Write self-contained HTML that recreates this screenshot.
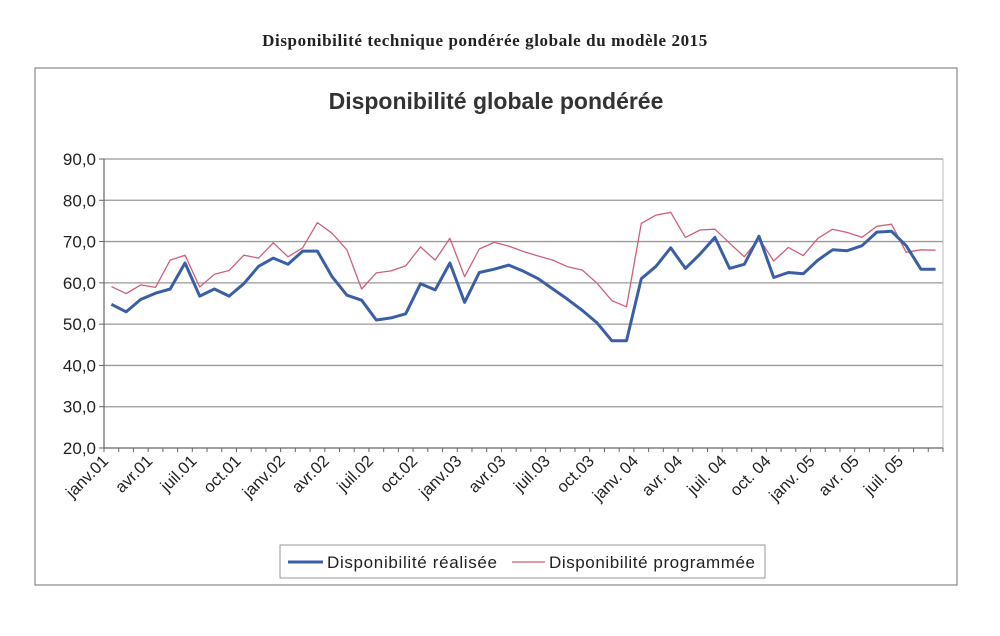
<!DOCTYPE html>
<html><head><meta charset="utf-8"><style>
body{margin:0;background:#fff;width:1000px;height:636px;overflow:hidden}
svg{display:block}
</style></head><body>
<svg id="chart" width="1000" height="636" viewBox="0 0 1000 636" xmlns="http://www.w3.org/2000/svg">
<text x="485" y="46" text-anchor="middle" font-family="Liberation Serif, serif" font-weight="bold" font-size="17" letter-spacing="0.6" fill="#222">Disponibilité technique pondérée globale du modèle 2015</text>
<rect x="35" y="68" width="922" height="517" fill="none" stroke="#888" stroke-width="1.2"/>
<text x="496" y="109" text-anchor="middle" font-family="Liberation Sans, sans-serif" font-weight="bold" font-size="23" fill="#333">Disponibilité globale pondérée</text>
<g id="grid"></g><g id="axes"></g><g id="series"></g>
<g>
<rect x="280" y="545" width="485" height="33" fill="#fff" stroke="#999"/>
<line x1="288" y1="562" x2="323" y2="562" stroke="#3a5ea8" stroke-width="3"/>
<text x="327" y="568" font-family="Liberation Sans, sans-serif" font-size="17" textLength="170" fill="#222">Disponibilité réalisée</text>
<line x1="512" y1="562" x2="545" y2="562" stroke="#d0607a" stroke-width="1.3"/>
<text x="549" y="568" font-family="Liberation Sans, sans-serif" font-size="17" textLength="206" fill="#222">Disponibilité programmée</text>
</g>
</svg>
<script>
const categories = ["janv.01","févr.01","mars.01","avr.01","mai.01","juin.01","juil.01","août.01","sept.01","oct.01","nov.01","déc.01",
"janv.02","févr.02","mars.02","avr.02","mai.02","juin.02","juil.02","août.02","sept.02","oct.02","nov.02","déc.02",
"janv.03","févr.03","mars.03","avr.03","mai.03","juin.03","juil.03","août.03","sept.03","oct.03","nov.03","déc.03",
"janv. 04","févr. 04","mars. 04","avr. 04","mai. 04","juin. 04","juil. 04","août. 04","sept. 04","oct. 04","nov. 04","déc. 04",
"janv. 05","févr. 05","mars. 05","avr. 05","mai. 05","juin. 05","juil. 05","août. 05","sept. 05"];
const realisee = [54.8,53,56,57.5,58.5,64.8,56.8,58.5,56.8,59.8,64,66,
64.5,67.7,67.7,61.5,57,55.8,51,51.5,52.5,59.8,58.3,64.8,
55.3,62.5,63.3,64.3,62.8,61,58.5,56,53.3,50.3,46,46,
61,64,68.5,63.5,67,71,63.5,64.5,71.3,61.3,62.5,62.2,
65.5,68,67.8,69,72.3,72.5,69,63.3,63.3];
const programmee = [59.1,57.4,59.5,58.9,65.5,66.7,59,62.1,63,66.7,66,69.7,
66.3,68.5,74.6,72,68,58.5,62.4,62.9,64.1,68.7,65.5,70.8,
61.5,68.2,69.8,68.9,67.6,66.5,65.5,63.9,63.1,59.9,55.7,54.2,
74.4,76.4,77.1,71,72.8,73,69.6,66.3,70.8,65.3,68.6,66.6,
70.8,73,72.2,71,73.7,74.2,67.4,68,67.9];
const yTicks = [20,30,40,50,60,70,80,90];

const NS="http://www.w3.org/2000/svg";
const X0=104, X1=943, Y0=448, Y1=159, VMIN=20, VMAX=90;
const step=(X1-X0)/categories.length;
function xPos(i){return X0+step*(i+0.5);}
function yPos(v){return Y0-(v-VMIN)/(VMAX-VMIN)*(Y0-Y1);}
function mk(tag,attrs,parent){const e=document.createElementNS(NS,tag);for(const k in attrs)e.setAttribute(k,attrs[k]);parent.appendChild(e);return e;}
const grid=document.getElementById('grid'), axes=document.getElementById('axes'), series=document.getElementById('series');
yTicks.forEach(v=>{
  const y=yPos(v);
  if(v>VMIN){const l=mk('line',{x1:X0,y1:y,x2:X1,y2:y,stroke:'#999','stroke-width':1.3},grid);
  
  }
  const tk=mk('line',{x1:X0-5,y1:y,x2:X0,y2:y,stroke:'#666'},axes);
  
  
  const t=mk('text',{x:X0-8,y:y+6,'text-anchor':'end','font-family':'Liberation Sans, sans-serif','font-size':17,fill:'#222'},axes);
  t.textContent=v.toFixed(1).replace('.',',');
  
  
});
const ya=mk('line',{x1:X0,y1:Y1,x2:X0,y2:Y0,stroke:'#666','stroke-width':1.2},axes);


const ra=mk('line',{x1:X1,y1:Y1,x2:X1,y2:Y0,stroke:'#bbb','stroke-width':1},axes);


const xa=mk('line',{x1:X0,y1:Y0,x2:X1,y2:Y0,stroke:'#666','stroke-width':1.2},axes);


for(let i=0;i<=categories.length;i++){
  const tx=X0+step*i;
  const tk=mk('line',{x1:tx,y1:Y0,x2:tx,y2:Y0+4,stroke:'#666'},axes);
  
  
}
categories.forEach((c,i)=>{
  if(i%3!==0)return;
  const x=xPos(i)-2, y=Y0+14;
  const t=mk('text',{x:x,y:y,'text-anchor':'end','font-family':'Liberation Sans, sans-serif','font-size':16.5,fill:'#222',transform:`rotate(-45 ${x} ${y})`},axes);
  t.textContent=c;
  
  
});
function line(vals,color,w,name){
  const d=vals.map((v,i)=>(i?'L':'M')+xPos(i).toFixed(1)+' '+yPos(v).toFixed(1)).join(' ');
  const p=mk('path',{d:d,fill:'none',stroke:color,'stroke-width':w,'stroke-linejoin':'round'},series);
  
  
}
line(programmee,'#d0607a',1.3,'series-programmee');
line(realisee,'#3a5ea8',3,'series-realisee');
</script>
</body></html>
